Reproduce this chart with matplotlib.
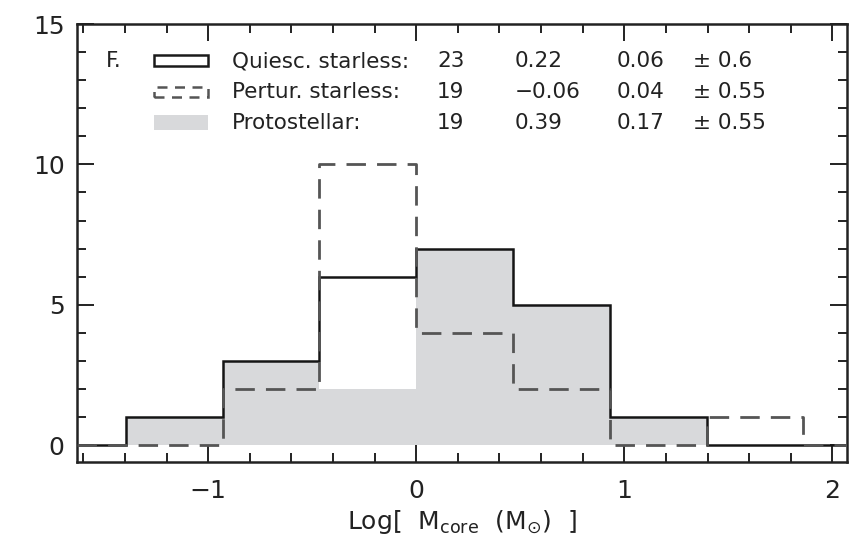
import numpy as np
import matplotlib
matplotlib.use("Agg")
import matplotlib.pyplot as plt
from matplotlib.patches import Rectangle
from matplotlib.ticker import MultipleLocator, FuncFormatter

# Histogram bins in log core mass
bin_edges = [-1.395, -0.93, -0.465, 0.0, 0.465, 0.93, 1.395, 1.86]
quiescent_counts = [1, 3, 6, 7, 5, 1, 0]
perturbed_counts = [0, 2, 10, 4, 2, 0, 1]
protostellar_counts = [1, 3, 2, 7, 5, 1, 0]

# Legend table: name, N, mean, median, sigma
legend_names = ["Quiesc. starless:", "Pertur. starless:", "Protostellar:"]
legend_n = ["23", "19", "19"]
legend_mean = ["0.22", "\u22120.06", "0.39"]
legend_median = ["0.06", "0.04", "0.17"]
legend_sigma = ["\u00b1 0.6", "\u00b1 0.55", "\u00b1 0.55"]
panel_label = "F."

xlim = (-1.63, 2.07)
ylim = (-0.6, 15)

plt.rcParams['font.family'] = ['DejaVu Sans']
plt.rcParams['mathtext.fontset'] = 'dejavusans'

fig = plt.figure(figsize=(8.53, 5.42), dpi=100)
ax = fig.add_axes([0.0903, 0.1476, 0.9027, 0.8081])


def step_outline(edges, counts, lo, hi):
    # extend with zero-level segments out to the axis edges
    e = [lo] + list(edges) + [hi]
    c = [0] + list(counts) + [0]
    xs, ys = [], []
    for i, v in enumerate(c):
        xs += [e[i], e[i + 1]]
        ys += [v, v]
    return xs, ys


gray = "#d8d9db"
edges = np.array(bin_edges)
ax.fill_between(np.repeat(edges, 2)[1:-1], 0,
                np.repeat(protostellar_counts, 2),
                color=gray, lw=0, zorder=1)

xs, ys = step_outline(bin_edges, quiescent_counts, xlim[0], xlim[1])
ax.plot(xs, ys, color="#151515", lw=1.8, zorder=3, solid_joinstyle='miter')
xs, ys = step_outline(bin_edges, perturbed_counts, xlim[0], xlim[1])
ax.plot(xs, ys, color="#555555", lw=2.0, ls=(0, (7, 4)), zorder=4)

ax.set_xlim(*xlim)
ax.set_ylim(*ylim)

ax.xaxis.set_major_locator(MultipleLocator(1))
ax.xaxis.set_minor_locator(MultipleLocator(0.2))
ax.yaxis.set_major_locator(MultipleLocator(5))
ax.yaxis.set_minor_locator(MultipleLocator(1))
ax.tick_params(which='both', direction='in', top=True, right=True,
               color="#222222", width=1.4)
ax.tick_params(which='major', length=12, labelsize=18, pad=9,
               labelcolor="#222222")
ax.tick_params(which='minor', length=6.5)
ax.tick_params(axis='x', which='major', pad=12)
for s in ax.spines.values():
    s.set_linewidth(1.8)
    s.set_color("#222222")

ax.xaxis.set_major_formatter(FuncFormatter(
    lambda v, p: ("\u2212%d" % abs(v)) if v < 0 else "%d" % v))

ax.set_xlabel(r"Log[  M$_{\rm core}$  (M$_{\odot}$)  ]", fontsize=18,
              labelpad=4, color="#222222")


def px(x, y):
    return (x / 853, 1 - y / 542)


# Legend block placed in figure pixel coordinates
tr = fig.transFigure
rows_y = [61, 92, 123]
fs = 15.5
tc = "#222222"
fig.text(*px(106, rows_y[0]), panel_label, fontsize=fs, va='center',
         ha='left', color=tc)
fig.patches.append(Rectangle(px(154, 66), 54 / 853, 11 / 542, transform=tr,
                             fill=False, ec="#1a1a1a", lw=1.8))
fig.patches.append(Rectangle(px(154, 97), 54 / 853, 10 / 542, transform=tr,
                             fill=False, ec="#555555", lw=1.8, ls=(0, (4, 3))))
fig.patches.append(Rectangle(px(154, 130), 54 / 853, 15 / 542, transform=tr,
                             fc=gray, ec='none'))
for i, y in enumerate(rows_y):
    fig.text(*px(232, y), legend_names[i], fontsize=fs, va='center', color=tc)
    fig.text(*px(437, y), legend_n[i], fontsize=fs, va='center', color=tc)
    fig.text(*px(515, y), legend_mean[i], fontsize=fs, va='center', color=tc)
    fig.text(*px(617, y), legend_median[i], fontsize=fs, va='center', color=tc)
    fig.text(*px(693, y), legend_sigma[i], fontsize=fs, va='center', color=tc)

fig.savefig("out.png", dpi=100)
